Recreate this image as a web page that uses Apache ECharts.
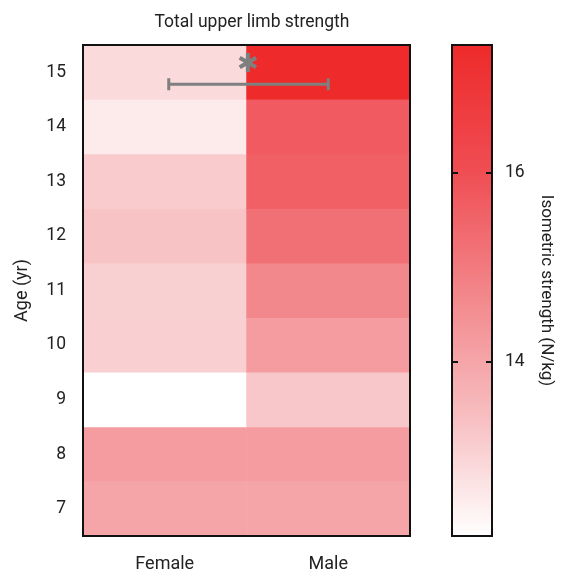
<!DOCTYPE html>
<html><head><meta charset="utf-8">
<script src="https://cdn.jsdelivr.net/npm/echarts@6/dist/echarts.min.js"></script>
<style>html,body{margin:0;padding:0;background:#fff}#c{width:565px;height:575px}</style>
</head><body><div id="c"></div>
<script>
const sexes = ['Female', 'Male'];
const ages = ['7', '8', '9', '10', '11', '12', '13', '14', '15'];
const femaleValues = [14.0, 14.21, 12.15, 13.08, 13.06, 13.32, 13.16, 12.55, 12.87];
const maleValues   = [14.0, 14.21, 13.24, 14.21, 14.68, 15.23, 15.6, 15.73, 17.35];
const colorTicks = [14, 16];
const colorMin = 12.15, colorMax = 17.35;
const sigPair = [0, 1, 8]; // Female vs Male at age index 8 (15 yr)

const FONT = "Roboto, sans-serif";
const data = [];
ages.forEach((a, i) => {
  data.push([0, i, femaleValues[i]]);
  data.push([1, i, maleValues[i]]);
});

const chart = echarts.init(document.getElementById('c'));
chart.setOption({
  animation: false,
  backgroundColor: '#fff',
  textStyle: { fontFamily: FONT },
  title: {
    text: 'Total upper limb strength', left: 247, top: 9, textAlign: 'center',
    textStyle: { fontFamily: FONT, fontSize: 17.5, fontWeight: 'normal', color: '#222' }
  },
  grid: [
    { left: 83, top: 45, width: 327, height: 491, show: true, z: 10,
      backgroundColor: 'transparent', borderColor: '#111', borderWidth: 2 },
    { left: 452, top: 45, width: 40, height: 491, show: true, z: 10,
      backgroundColor: 'transparent', borderColor: '#111', borderWidth: 2 }
  ],
  xAxis: [
    { type: 'category', data: sexes, gridIndex: 0,
      axisLine: { show: false }, axisTick: { show: false }, splitLine: { show: false },
      axisLabel: { fontFamily: FONT, fontSize: 18, color: '#222', margin: 19 } },
    { type: 'value', gridIndex: 1, min: 0, max: 1, show: false }
  ],
  yAxis: [
    { type: 'category', data: ages, gridIndex: 0,
      name: 'Age (yr)', nameLocation: 'middle', nameGap: 52,
      nameTextStyle: { fontFamily: FONT, fontSize: 18, color: '#222' },
      axisLine: { show: false }, axisTick: { show: false }, splitLine: { show: false },
      axisLabel: { fontFamily: FONT, fontSize: 17.5, color: '#222', margin: 17 } },
    { type: 'value', gridIndex: 1, position: 'left', min: colorMin, max: colorMax,
      interval: 2, axisLine: { show: false }, splitLine: { show: false },
      axisTick: { show: true, inside: true, length: 6, lineStyle: { color: '#111', width: 2 },
        customValues: colorTicks },
      axisLabel: { show: false }, z: 11 },
    { type: 'value', gridIndex: 1, position: 'right', min: colorMin, max: colorMax,
      interval: 2, axisLine: { show: false }, splitLine: { show: false },
      name: 'Isometric strength (N/kg)', nameLocation: 'middle', nameGap: 46, nameRotate: -90,
      nameTextStyle: { fontFamily: FONT, fontSize: 17, color: '#222' },
      axisTick: { show: true, inside: true, length: 6, lineStyle: { color: '#111', width: 2 },
        customValues: colorTicks },
      axisLabel: { fontFamily: FONT, fontSize: 17.5, color: '#222', margin: 13, customValues: colorTicks },
      z: 11 }
  ],
  visualMap: {
    type: 'continuous', seriesIndex: 0, min: colorMin, max: colorMax,
    left: 452, top: 45, padding: 0, itemWidth: 40, itemHeight: 491,
    calculable: false, text: null, showLabel: false, hoverLink: false,
    inRange: { color: ['#ffffff', '#f7bcbf', '#f28589', '#ef4c52', '#ee2a2a'] }
  },
  series: [
    { type: 'heatmap', xAxisIndex: 0, yAxisIndex: 0, data: data,
      itemStyle: { borderWidth: 0 }, emphasis: { disabled: true } },
    { type: 'custom', xAxisIndex: 0, yAxisIndex: 0, z: 5, silent: true,
      dimensions: ['x1', 'x2', 'y'],
      encode: { x: [0, 1], y: 2 },
      data: [sigPair],
      renderItem: function (params, api) {
        const p1 = api.coord([api.value(0), api.value(2)]);
        const p2 = api.coord([api.value(1), api.value(2)]);
        const y = p1[1] + 12;
        const xl = p1[0] + 4;
        const xr = p2[0];
        const gray = '#7f7f7f';
        const ls = { stroke: gray, lineWidth: 3 };
        return { type: 'group', children: [
          { type: 'line', shape: { x1: xl, y1: y, x2: xr, y2: y }, style: ls },
          { type: 'line', shape: { x1: xl, y1: y - 6, x2: xl, y2: y + 6 }, style: ls },
          { type: 'line', shape: { x1: xr, y1: y - 6, x2: xr, y2: y + 6 }, style: ls },
          { type: 'text', style: { text: '\u2731', x: (p1[0] + p2[0]) / 2 + 1.5, y: y - 19,
              fill: gray, font: "26px 'DejaVu Sans', sans-serif",
              align: 'center', verticalAlign: 'middle' } }
        ] };
      }
    }
  ]
});
</script></body></html>
